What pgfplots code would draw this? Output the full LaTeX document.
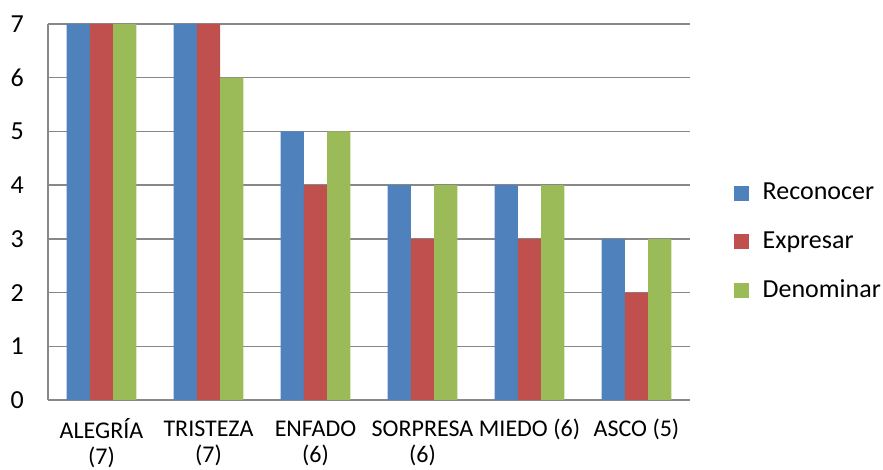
\documentclass[border=0pt]{standalone}
\usepackage{fontspec}
\setmainfont{Carlito}
\usepackage{pgfplots}
\pgfplotsset{compat=1.18}
\definecolor{cblue}{HTML}{4F81BD}
\definecolor{cred}{HTML}{C0504D}
\definecolor{cgreen}{HTML}{9BBB59}
\definecolor{cgrid}{HTML}{888888}
\begin{document}
\fontsize{24pt}{28pt}\selectfont
\begin{tikzpicture}
\path[use as bounding box] (-48pt,-70pt) rectangle (835pt,400pt);
\begin{axis}[
  at={(0,0)}, anchor=south west,
  scale only axis, width=642pt, height=376pt,
  ymin=0, ymax=7, ytick={0,...,7},
  xmin=-0.5, xmax=5.5, xtick={0,...,5},
  xticklabels={{\strut ALEGRÍA\\(7)},{\strut TRISTEZA\\(7)},{\strut ENFADO\\(6)},{\strut SORPRESA\\(6)},{\strut MIEDO (6)},{\strut ASCO (5)}},
  xticklabel style={align=center, anchor=north, font=\fontsize{24pt}{26pt}\selectfont, yshift=-10pt},
  yticklabel style={font=\fontsize{26pt}{30pt}\selectfont, xshift=-16pt},
  /pgf/number format/assume math mode=true,
  major tick length=0pt,
  axis x line=bottom, axis y line=left,
  axis line style={draw=cgrid, line width=1.5pt, -},
  ymajorgrids, grid style={draw=cgrid, line width=1.5pt},
  ybar=0pt, bar width=23.3pt,
  legend style={at={(1.063,0.42)}, anchor=west, draw=none, fill=none,
    font=\fontsize{26pt}{30pt}\selectfont, row sep=24pt,
    /tikz/every odd column/.append style={column sep=12pt}},
  legend cell align=left,
  legend image code/.code={\fill[#1] (0pt,-7.5pt) rectangle (15pt,7.5pt);},
]
\addplot[fill=cblue, draw=none] coordinates {(0,7) (1,7) (2,5) (3,4) (4,4) (5,3)};
\addplot[fill=cred, draw=none] coordinates {(0,7) (1,7) (2,4) (3,3) (4,3) (5,2)};
\addplot[fill=cgreen, draw=none] coordinates {(0,7) (1,6) (2,5) (3,4) (4,4) (5,3)};
\legend{Reconocer, Expresar, Denominar}
\end{axis}
\end{tikzpicture}
\end{document}
